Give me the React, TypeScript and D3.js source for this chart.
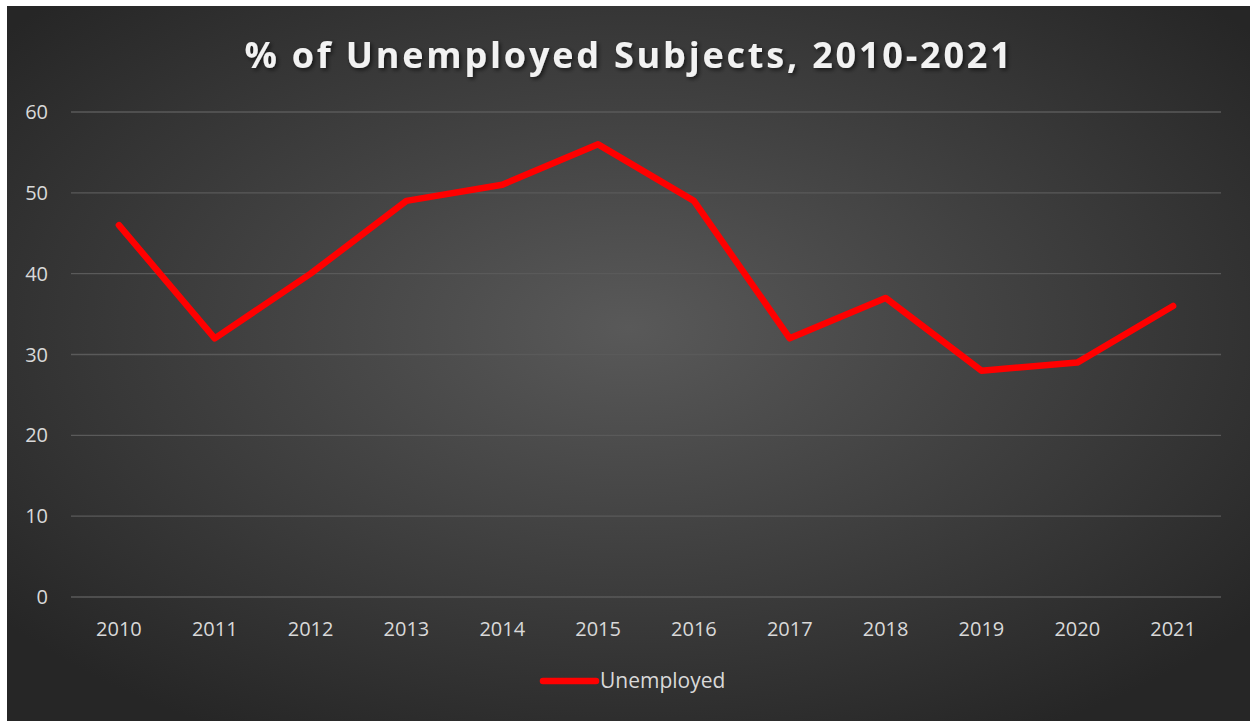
import React from "react";
import * as d3 from "d3";

const years = ["2010","2011","2012","2013","2014","2015","2016","2017","2018","2019","2020","2021"];
const unemployed = [46, 32, 40, 49, 51, 56, 49, 32, 37, 28, 29, 36];
const yTicks = [0, 10, 20, 30, 40, 50, 60];
const title = "% of Unemployed Subjects, 2010-2021";
const seriesName = "Unemployed";

export default function App() {
  const W = 1243, H = 715;
  const ox = 7, oy = 6;
  const x = d3.scaleBand<string>().domain(years).range([71 - ox, 1221 - ox]);
  const y = d3.scaleLinear().domain([0, 60]).range([597 - oy, 112 - oy]);
  const line = d3.line<number>()
    .x((_, i) => (x(years[i]) as number) + x.bandwidth() / 2)
    .y((d) => y(d));
  const font = "'Open Sans', 'DejaVu Sans', sans-serif";
  return (
    <svg width={W} height={H} style={{ position: "absolute", left: ox, top: oy }}>
      <defs>
        <radialGradient id="bg" cx="50%" cy="45%" r="65%">
          <stop offset="0%" stopColor="#595959" />
          <stop offset="100%" stopColor="#262626" />
        </radialGradient>
        <filter id="sh" x="-5%" y="-20%" width="110%" height="150%">
          <feDropShadow dx="2" dy="2" stdDeviation="2" floodColor="#000" floodOpacity="0.6" />
        </filter>
      </defs>
      <rect width={W} height={H} fill="url(#bg)" />
      <text x={629 - ox} y={68 - oy} textAnchor="middle" fill="#f2f2f2" fontFamily={font}
        fontWeight="bold" fontSize={36} letterSpacing={2.8} filter="url(#sh)">{title}</text>
      {yTicks.map((t) => (
        <g key={t}>
          <line x1={71 - ox} x2={1221 - ox} y1={y(t)} y2={y(t)} stroke="#5a5a5a" strokeWidth={1.3} />
          <text x={48 - ox} y={y(t) + 7} textAnchor="end" fill="#d9d9d9" fontFamily={font} fontSize={20}>{t}</text>
        </g>
      ))}
      {years.map((yr) => (
        <text key={yr} x={(x(yr) as number) + x.bandwidth() / 2} y={636 - oy} textAnchor="middle"
          fill="#d9d9d9" fontFamily={font} fontSize={20}>{yr}</text>
      ))}
      <path d={line(unemployed) || ""} fill="none" stroke="#ff0000" strokeWidth={6.5}
        strokeLinecap="round" strokeLinejoin="round" />
      <line x1={543 - ox} x2={596 - ox} y1={681 - oy} y2={681 - oy} stroke="#ff0000" strokeWidth={6.5} strokeLinecap="round" />
      <text x={600 - ox} y={688 - oy} fill="#d9d9d9" fontFamily={font} fontSize={21}>{seriesName}</text>
    </svg>
  );
}
